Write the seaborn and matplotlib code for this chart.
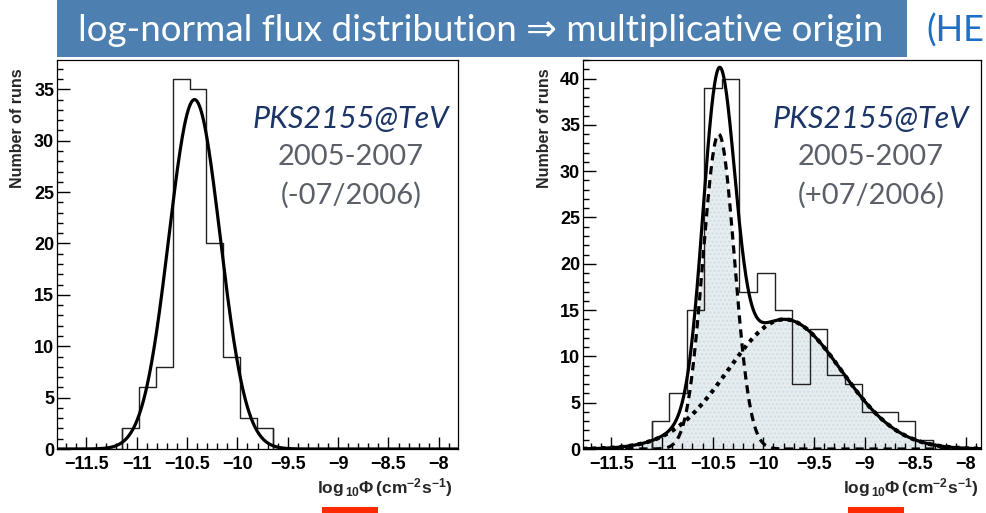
import numpy as np
import pandas as pd
import matplotlib
matplotlib.use("Agg")
import matplotlib.pyplot as plt
from matplotlib.patches import Rectangle
from matplotlib.ticker import MultipleLocator
import seaborn as sns

# ---------------- data ----------------
# left panel: runs before 07/2006
left_bin_start = -11.14
left_bin_width = 0.1665
left_counts = [2, 6, 8, 36, 35, 20, 9, 3, 2]
left_fit = [34.0, -10.425, 0.255]          # amplitude, mean, sigma

# right panel: runs including 07/2006
right_bin_start = -11.103
right_bin_width = 0.1735
right_counts = [3, 6, 15, 39, 40, 17, 19, 15, 7, 13, 8, 7, 4, 4, 3, 1]
right_fit_narrow = [34.0, -10.44, 0.155]
right_fit_broad = [14.0, -9.79, 0.56]

x_ticks = [-11.5, -11, -10.5, -10, -9.5, -9, -8.5, -8]
left_xlim = (-11.79, -7.81)
right_xlim = (-11.78, -7.85)
left_ylim = (0, 37.9)
right_ylim = (0, 42.0)

title_text = "log-normal flux distribution \u21d2 multiplicative origin"
source_text = "PKS2155@TeV"
years_text = "2005-2007"
left_period = "(-07/2006)"
right_period = "(+07/2006)"
y_label = "Number of runs"
x_label = r"$\mathrm{log}_{\,10}\Phi\,\mathrm{(cm^{-2}s^{-1})}$"

# ---------------- style ----------------
sns.set_theme(style="white")
plt.rcParams.update({
    "font.family": ["Liberation Sans", "DejaVu Sans"],
    "font.weight": "bold",
    "mathtext.fontset": "custom",
    "mathtext.rm": "Liberation Sans:bold",
    "mathtext.it": "Liberation Sans:bold",
    "mathtext.bf": "Liberation Sans:bold",
    "axes.edgecolor": "black",
    "axes.linewidth": 0.9,
    "xtick.direction": "in",
    "ytick.direction": "in",
    "xtick.color": "black",
    "ytick.color": "black",
    "axes.unicode_minus": True,
})

W, H = 987, 513
fig = plt.figure(figsize=(W / 100, H / 100), dpi=100)


def px_axes(x0, y0, x1, y1):
    return fig.add_axes([x0 / W, 1 - y1 / H, (x1 - x0) / W, (y1 - y0) / H])


def gauss(x, p):
    a, m, s = p
    return a * np.exp(-0.5 * ((x - m) / s) ** 2)


def draw_hist(ax, start, width, counts):
    n = len(counts)
    edges = start + width * np.arange(-1, n + 2)
    centers = 0.5 * (edges[:-1] + edges[1:])
    weights = np.r_[0, counts, 0]
    df = pd.DataFrame({"flux": centers, "runs": weights})
    sns.histplot(data=df, x="flux", weights="runs", bins=n + 2,
                 binrange=(edges[0], edges[-1]),
                 element="step", fill=False, color="#222222",
                 linewidth=1.0, ax=ax)
    # close the outline down to the baseline at both ends
    ax.vlines([edges[1], edges[-2]], 0, [counts[0], counts[-1]],
              color="#222222", linewidth=1.0)


def style_axes(ax, xlim, ylim):
    ax.set_xlim(*xlim)
    ax.set_ylim(*ylim)
    ax.xaxis.set_major_locator(MultipleLocator(0.5))
    ax.xaxis.set_minor_locator(MultipleLocator(0.1))
    ax.yaxis.set_major_locator(MultipleLocator(5))
    ax.yaxis.set_minor_locator(MultipleLocator(1))
    ax.set_xticks(x_ticks)
    ax.set_xticklabels([f"{t:g}".replace("-", "\u2212") for t in x_ticks])
    ax.tick_params(axis="both", which="both", bottom=True, left=True,
                   top=False, right=False, direction="in", color="black")
    ax.tick_params(axis="both", which="major", length=9, width=1.0,
                   labelsize=13)
    ax.tick_params(axis="both", which="minor", length=4.5, width=1.0)
    ax.tick_params(axis="x", pad=5)
    ax.tick_params(axis="y", pad=2)
    for lab in ax.get_xticklabels() + ax.get_yticklabels():
        lab.set_fontweight("bold")
    for s in ax.spines.values():
        s.set_visible(True)
        s.set_color("black")
    ax.set_xlabel("")
    ax.set_ylabel("")
    ax.set_facecolor("white")


# ---------------- left panel ----------------
axL = px_axes(57, 59.5, 458, 449)
draw_hist(axL, left_bin_start, left_bin_width, left_counts)
xl = np.linspace(*left_xlim, 600)
sns.lineplot(x=xl, y=gauss(xl, left_fit), color="black", linewidth=2.3, ax=axL)
style_axes(axL, left_xlim, left_ylim)

# ---------------- right panel ----------------
axR = px_axes(583, 60, 981, 449)
xr = np.linspace(*right_xlim, 800)
yn = gauss(xr, right_fit_narrow)
yb = gauss(xr, right_fit_broad)
fill_kw = dict(facecolor="#e6edf0", edgecolor="#d2dde1", hatch="....",
               linewidth=0, zorder=0)
axR.fill_between(xr, 0, yn, **fill_kw)
axR.fill_between(xr, 0, yb, **fill_kw)
draw_hist(axR, right_bin_start, right_bin_width, right_counts)
sns.lineplot(x=xr, y=yn, color="black", linewidth=2.3,
             linestyle=(0, (2.6, 1.8)), ax=axR)
sns.lineplot(x=xr, y=yb, color="black", linewidth=3.0,
             linestyle=(0, (1.0, 1.2)), ax=axR)
sns.lineplot(x=xr, y=yn + yb, color="black", linewidth=2.3, ax=axR)
style_axes(axR, right_xlim, right_ylim)

# ---------------- axis titles ----------------
for ax, xc in ((axL, 18), (axR, 545)):
    fig.text(xc / W, 1 - 68 / H, y_label, rotation=90, ha="center", va="top",
             fontsize=11.5, fontweight="bold")
for x_right in (452, 978):
    fig.text(x_right / W, 1 - 488 / H, x_label, ha="right", va="center",
             fontsize=12.5)

# ---------------- annotations ----------------
for ax, xc, period in ((axL, 351, left_period), (axR, 871, right_period)):
    fig.text(xc / W, 1 - 119 / H, source_text, ha="center", va="center",
             fontsize=22, style="italic", color="#1b3566",
             family=["Lato", "DejaVu Sans"], fontweight="normal")
    fig.text(xc / W, 1 - 157 / H, years_text, ha="center", va="center",
             fontsize=21, color="#5b6068",
             family=["Lato", "DejaVu Sans"], fontweight="normal")
    fig.text(xc / W, 1 - 195 / H, period, ha="center", va="center",
             fontsize=21, color="#5b6068",
             family=["Lato", "DejaVu Sans"], fontweight="normal")

# ---------------- title banner ----------------
fig.patches.append(Rectangle((57 / W, 1 - 57 / H), (907 - 57) / W, 57 / H,
                             transform=fig.transFigure, facecolor="#4d80b0",
                             edgecolor="none", zorder=5))
fig.text(481 / W, 1 - 31 / H, title_text, ha="center", va="center",
         fontsize=26.5, color="white", family=["Lato", "DejaVu Sans"],
         fontweight="normal", zorder=6)
fig.text(984 / W, 1 - 31 / H, "(HE", ha="right", va="center",
         fontsize=26, color="#1f6fc4", family=["Lato", "DejaVu Sans"],
         fontweight="normal", zorder=6)

# ---------------- red markers under the flux axis ----------------
for x0 in (322, 848):
    fig.patches.append(Rectangle((x0 / W, 0), 56 / W, 6 / H,
                                 transform=fig.transFigure,
                                 facecolor="#ff2a00", edgecolor="none"))

fig.savefig("out.png", dpi=100)
